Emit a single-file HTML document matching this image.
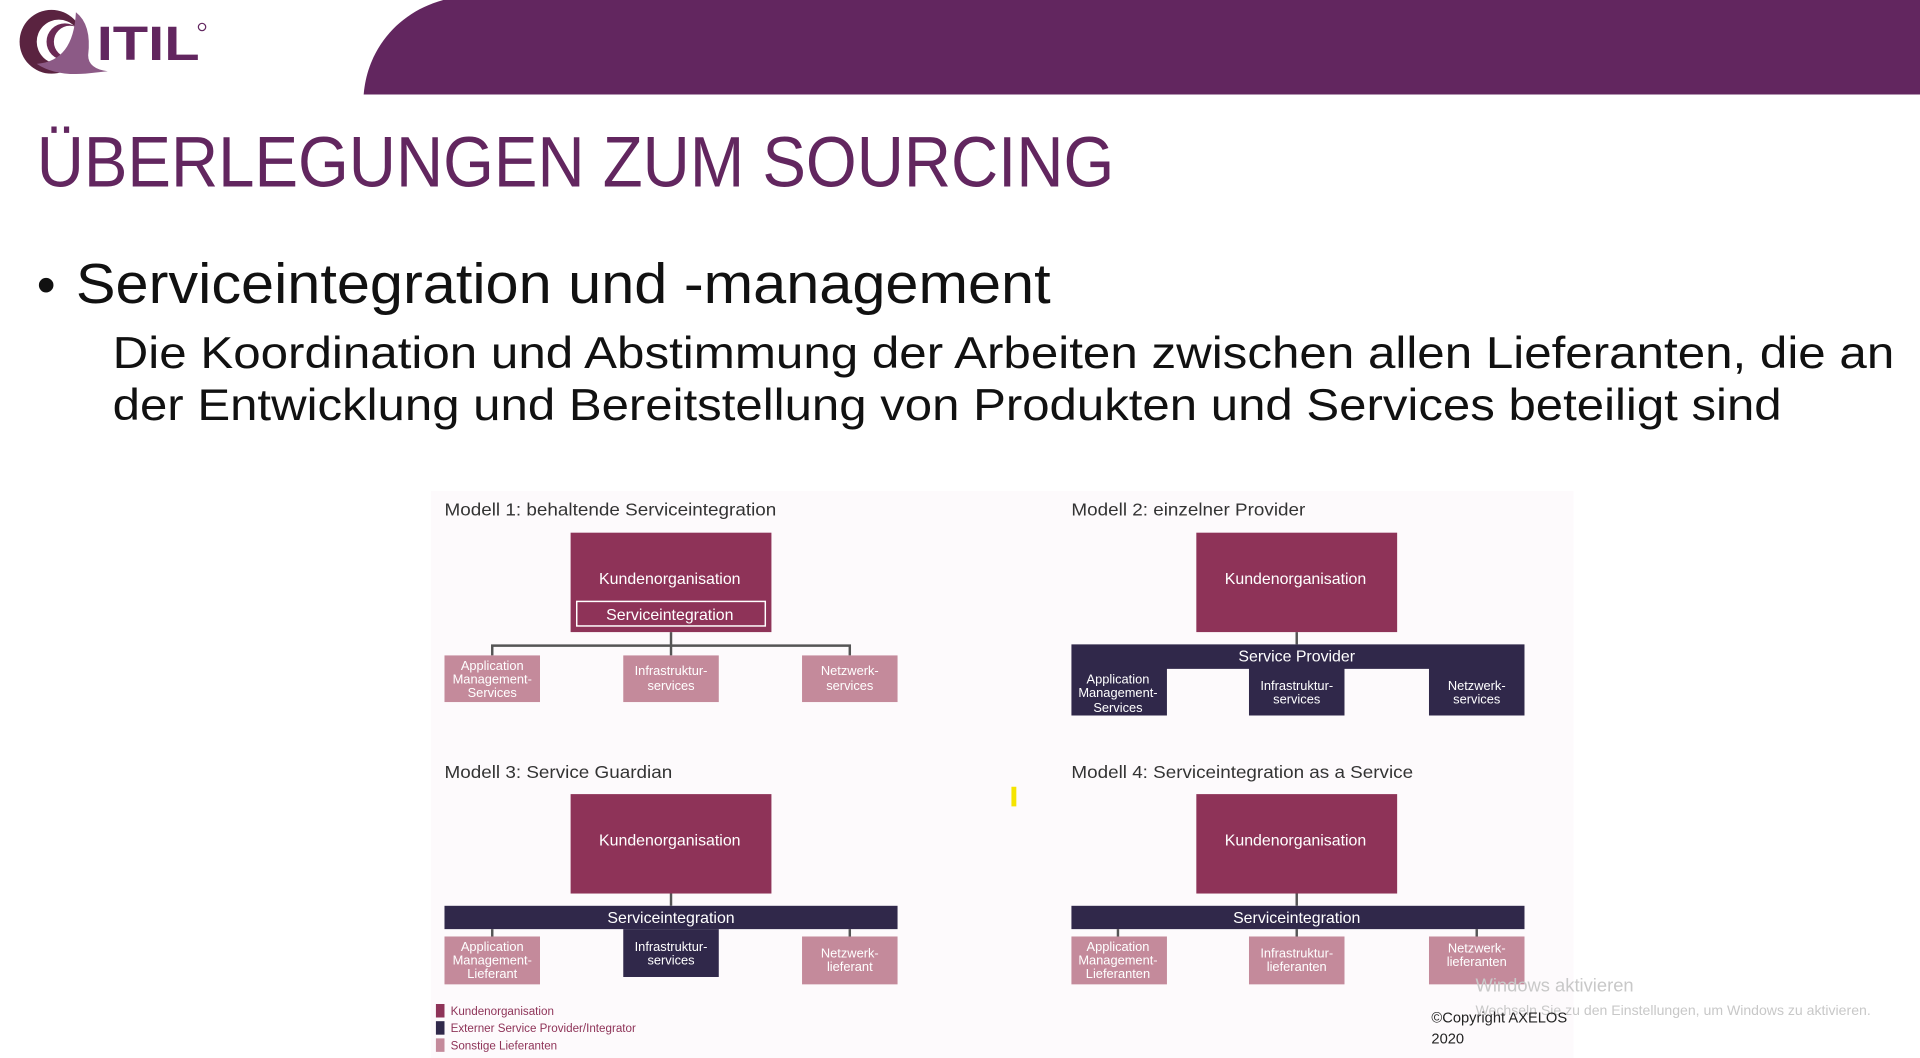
<!DOCTYPE html>
<html><head><meta charset="utf-8"><style>
html,body{margin:0;padding:0;background:#fff;overflow:hidden}
svg{display:block}
text{font-family:"Liberation Sans",sans-serif}
</style></head><body>
<svg width="1920" height="1058" viewBox="0 0 1568 862" preserveAspectRatio="none" xmlns="http://www.w3.org/2000/svg">
<rect width="1568" height="862" fill="#fff"/>
<path d="M297,77 C300,40 325,10 362,0 L1568,0 L1568,77 Z" fill="#62265f"/>
<!-- logo -->
<circle cx="42" cy="34" r="26" fill="#5a2340"/>
<circle cx="48" cy="34" r="18" fill="#fff"/>
<circle cx="53" cy="34" r="15" fill="#6b2a55"/>
<circle cx="57" cy="34" r="13" fill="#fff"/>
<path d="M62,10 Q75,20 72,45 Q72,56 88,58 L70,60 Q45,62 30,52 Q60,50 62,10Z" fill="#8c5a86"/>
<text x="79" y="49" font-size="39" font-weight="bold" fill="#62265f" textLength="84" lengthAdjust="spacingAndGlyphs">ITIL</text>
<circle cx="165" cy="22" r="3" fill="none" stroke="#62265f" stroke-width="1"/>
<!-- title -->
<text x="30" y="152" font-size="58" fill="#62265f" textLength="880" lengthAdjust="spacingAndGlyphs">ÜBERLEGUNGEN ZUM SOURCING</text>
<text x="30" y="247" font-size="44" fill="#111">•</text>
<text x="62" y="247" font-size="46" fill="#111" textLength="796" lengthAdjust="spacingAndGlyphs">Serviceintegration und -management</text>
<text x="92" y="300" font-size="36" fill="#111" textLength="1455" lengthAdjust="spacingAndGlyphs">Die Koordination und Abstimmung der Arbeiten zwischen allen Lieferanten, die an</text>
<text x="92" y="342" font-size="36" fill="#111" textLength="1363" lengthAdjust="spacingAndGlyphs">der Entwicklung und Bereitstellung von Produkten und Services beteiligt sind</text>
<!-- diagram bg -->
<rect x="352" y="400" width="933" height="462" fill="#fdfafc"/>
<g font-size="14" fill="#333">
<text x="363" y="420" textLength="271" lengthAdjust="spacingAndGlyphs">Modell 1: behaltende Serviceintegration</text>
<text x="875" y="420" textLength="191" lengthAdjust="spacingAndGlyphs">Modell 2: einzelner Provider</text>
<text x="363" y="634" textLength="186" lengthAdjust="spacingAndGlyphs">Modell 3: Service Guardian</text>
<text x="875" y="634" textLength="279" lengthAdjust="spacingAndGlyphs">Modell 4: Serviceintegration as a Service</text>
</g>
<g stroke="#555" stroke-width="2" fill="none">
<path d="M548,515V534M402,534V526H694V534"/>
<path d="M1059,515V525"/>
<path d="M548,728V738M402,757V763M694,757V763"/>
<path d="M1059,728V738M913,757V763M1059,757V763M1206,757V763"/>
</g>
<!-- model 1 -->
<rect x="466" y="434" width="164" height="81" fill="#8e3358"/>
<rect x="471" y="490" width="154" height="20" fill="none" stroke="#fff" stroke-width="1.2"/>
<g fill="#c48a9b"><rect x="363" y="534" width="78" height="38"/><rect x="509" y="534" width="78" height="38"/><rect x="655" y="534" width="78" height="38"/></g>
<!-- model 2 -->
<rect x="977" y="434" width="164" height="81" fill="#8e3358"/>
<path d="M875,525H1245V583H1167V545H1098V583H1020V545H953V583H875Z" fill="#30284a"/>
<!-- model 3 -->
<rect x="466" y="647" width="164" height="81" fill="#8e3358"/>
<rect x="363" y="738" width="370" height="19" fill="#30284a"/>
<rect x="509" y="757" width="78" height="39" fill="#30284a"/>
<g fill="#c48a9b"><rect x="363" y="763" width="78" height="39"/><rect x="655" y="763" width="78" height="39"/></g>
<!-- model 4 -->
<rect x="977" y="647" width="164" height="81" fill="#8e3358"/>
<rect x="875" y="738" width="370" height="19" fill="#30284a"/>
<g fill="#c48a9b"><rect x="875" y="763" width="78" height="39"/><rect x="1020" y="763" width="78" height="39"/><rect x="1167" y="763" width="78" height="39"/></g>
<g fill="#fff" font-size="13" text-anchor="middle">
<text x="547" y="476">Kundenorganisation</text>
<text x="547" y="505">Serviceintegration</text>
<text x="1058" y="476">Kundenorganisation</text>
<text x="1059" y="539">Service Provider</text>
<text x="547" y="689">Kundenorganisation</text>
<text x="548" y="752">Serviceintegration</text>
<text x="1058" y="689">Kundenorganisation</text>
<text x="1059" y="752">Serviceintegration</text>
</g>
<g fill="#fff" font-size="10.5" text-anchor="middle">
<text x="402" y="546">Application</text><text x="402" y="557">Management-</text><text x="402" y="568">Services</text>
<text x="548" y="550">Infrastruktur-</text><text x="548" y="562">services</text>
<text x="694" y="550">Netzwerk-</text><text x="694" y="562">services</text>
<text x="913" y="557">Application</text><text x="913" y="568">Management-</text><text x="913" y="580">Services</text>
<text x="1059" y="562">Infrastruktur-</text><text x="1059" y="573">services</text>
<text x="1206" y="562">Netzwerk-</text><text x="1206" y="573">services</text>
<text x="402" y="775">Application</text><text x="402" y="786">Management-</text><text x="402" y="797">Lieferant</text>
<text x="548" y="775">Infrastruktur-</text><text x="548" y="786">services</text>
<text x="694" y="780">Netzwerk-</text><text x="694" y="791">lieferant</text>
<text x="913" y="775">Application</text><text x="913" y="786">Management-</text><text x="913" y="797">Lieferanten</text>
<text x="1059" y="780">Infrastruktur-</text><text x="1059" y="791">lieferanten</text>
<text x="1206" y="776">Netzwerk-</text><text x="1206" y="787">lieferanten</text>
</g>
<!-- legend -->
<rect x="356" y="818" width="7" height="11" fill="#8e3358"/>
<rect x="356" y="832" width="7" height="11" fill="#30284a"/>
<rect x="356" y="846" width="7" height="11" fill="#c48a9b"/>
<g font-size="9.5" fill="#8e3358">
<text x="368" y="827">Kundenorganisation</text>
<text x="368" y="841">Externer Service Provider/Integrator</text>
<text x="368" y="855">Sonstige Lieferanten</text>
</g>
<rect x="826" y="641" width="4" height="16" fill="#f5e400"/>
<text x="1205" y="808" font-size="15" fill="#c8c8c8">Windows aktivieren</text>
<text x="1205" y="827" font-size="11.5" fill="#c8c8c8">Wechseln Sie zu den Einstellungen, um Windows zu aktivieren.</text>
<text x="1169" y="833" font-size="12" fill="#222">©Copyright AXELOS</text>
<text x="1169" y="850" font-size="12" fill="#222">2020</text>
</svg>
</body></html>
